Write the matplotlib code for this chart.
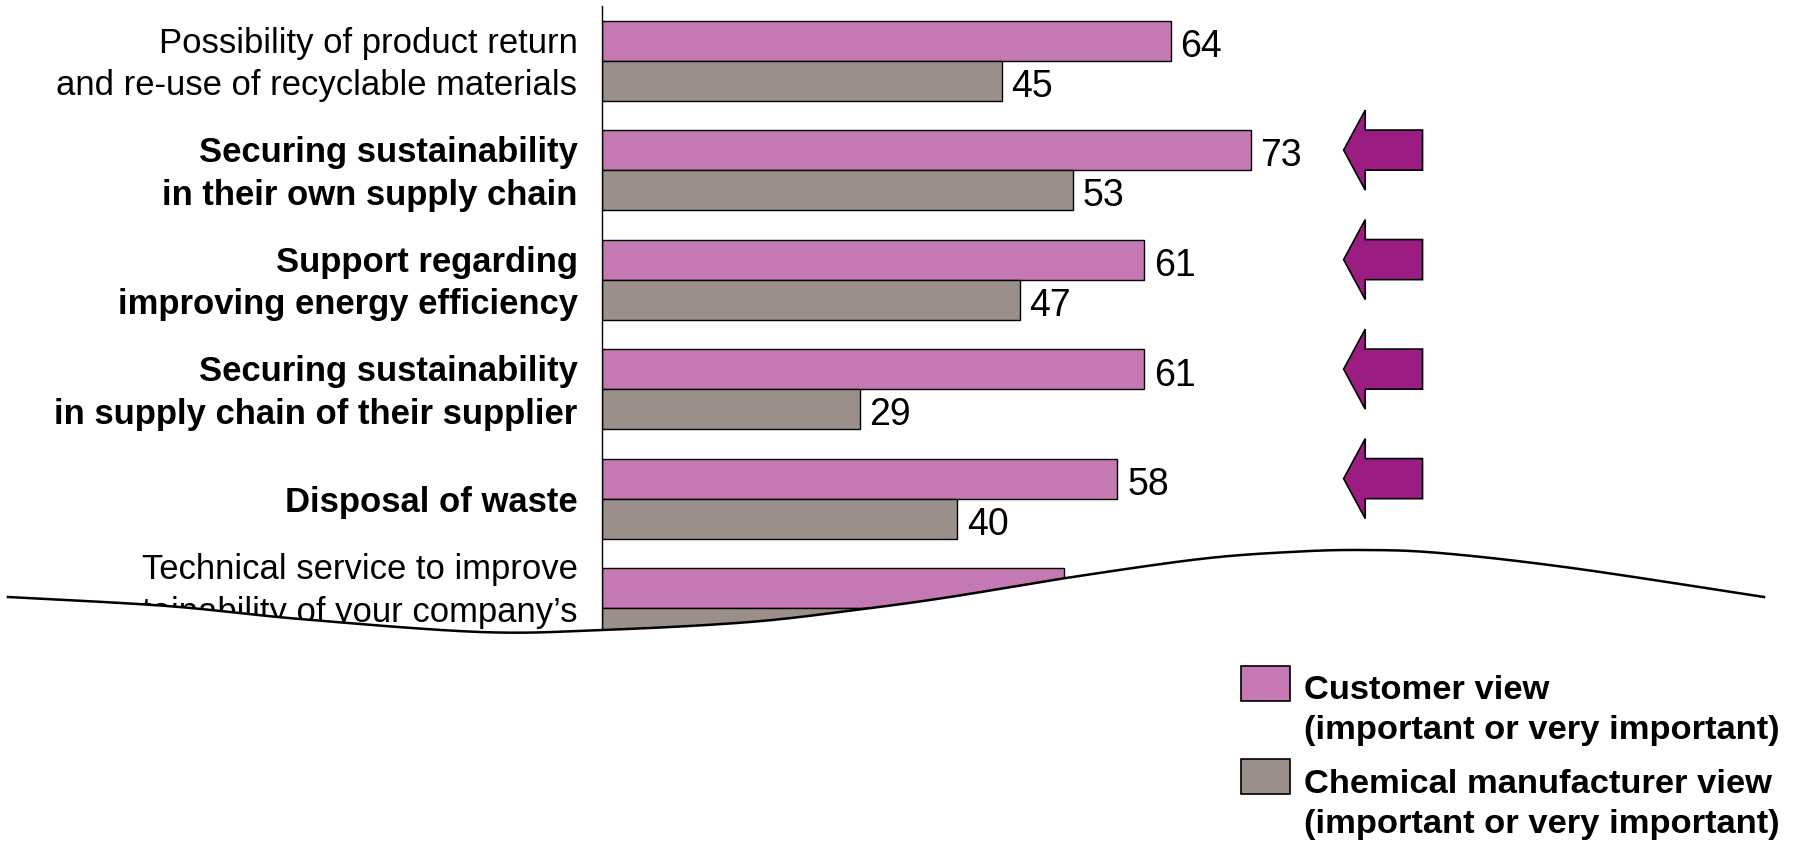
import numpy as np
import matplotlib
matplotlib.use("Agg")
import matplotlib.pyplot as plt
import matplotlib.transforms as mtransforms
from matplotlib.patches import Polygon, Rectangle
from matplotlib.lines import Line2D

# ---------------- data ----------------
categories = [
    "Possibility of product return\nand re-use of recyclable materials",
    "Securing sustainability\nin their own supply chain",
    "Support regarding\nimproving energy efficiency",
    "Securing sustainability\nin supply chain of their supplier",
    "Disposal of waste",
    "Technical service to improve\nsustainability of your company\u2019s\n ",
]
bold_labels = [False, True, True, True, True, False]
customer_view = [64, 73, 61, 61, 58, 52]
manufacturer_view = [45, 53, 47, 29, 40, 38]
highlighted = [False, True, True, True, True, False]
series_names = [
    "Customer view\n(important or very important)",
    "Chemical manufacturer view\n(important or very important)",
]

PINK = "#C479B5"
GRAY = "#9A8F89"
ARROW = "#9B1D82"
FS = 24.9
FS_VAL = 27
FS_LEG = 24.8
LS = 1.37
FONT = "Liberation Sans"

plt.rcParams["font.family"] = [FONT, "DejaVu Sans"]

W, H = 1793, 841
fig = plt.figure(figsize=(W / 100, H / 100), dpi=100)

# axes placement (pixels -> fraction)
ax_left_px, ax_top_px, ax_bottom_px = 602, 5.7, 700
px_per_unit = 8.885
ax_w_px = 100 * px_per_unit
ax = fig.add_axes([ax_left_px / W, 1 - ax_bottom_px / H,
                   ax_w_px / W, (ax_bottom_px - ax_top_px) / H])
ax.set_xlim(0, 100)
ax.set_ylim(5.839, -0.501)

pos = np.arange(len(categories))
h = 0.365
ax.barh(pos - h / 2, customer_view, height=h, color=PINK, edgecolor="black", linewidth=1.0)
ax.barh(pos + h / 2, manufacturer_view, height=h, color=GRAY, edgecolor="black", linewidth=1.0)

for y, v in zip(pos - h / 2, customer_view):
    ax.annotate(str(v), (v, y), xytext=(7, -11.8), textcoords="offset points",
                va="baseline", ha="left", fontsize=FS_VAL)
for y, v in zip(pos + h / 2, manufacturer_view):
    ax.annotate(str(v), (v, y), xytext=(7, -11.8), textcoords="offset points",
                va="baseline", ha="left", fontsize=FS_VAL)

# category labels (drawn as text so line spacing is controllable)
ax.set_yticks([])
ax.set_xticks([])
lab_tr = ax.get_yaxis_transform() + mtransforms.ScaledTranslation(0, -4.0 / 100,
                                                                  fig.dpi_scale_trans)
for y, text, b in zip(pos, categories, bold_labels):
    ax.text(-24.5 / ax_w_px, y, text, transform=lab_tr, fontsize=FS,
            fontweight="bold" if b else "normal", ha="right", va="center",
            multialignment="right", linespacing=LS, clip_on=False)

for s in ["top", "right", "bottom"]:
    ax.spines[s].set_visible(False)
ax.spines["left"].set_linewidth(1.0)

# highlight arrows next to pink bars
tip, head_base, tail = 83.47, 85.9, 92.35
hh, sh = 0.365, 0.183
for y, flag in zip(pos - h / 2, highlighted):
    if flag:
        verts = [(tip, y), (head_base, y - hh), (head_base, y - sh), (tail, y - sh),
                 (tail, y + sh), (head_base, y + sh), (head_base, y + hh)]
        ax.add_patch(Polygon(verts, closed=True, facecolor=ARROW, edgecolor="black",
                             linewidth=1.2, clip_on=False, zorder=4))

# ---------------- wavy cut mask ----------------
ctrl = np.array([(8, 597), (167, 606), (300, 619), (480, 632), (602, 630), (750, 622),
                 (863, 609), (950, 597), (1066, 578), (1200, 559), (1290, 552),
                 (1361, 550), (1440, 553), (1572, 568), (1764, 597)], dtype=float)

def catmull(points, n=40):
    P = np.vstack([points[0], points, points[-1]])
    out = []
    for i in range(1, len(P) - 2):
        p0, p1, p2, p3 = P[i - 1], P[i], P[i + 1], P[i + 2]
        t = np.linspace(0, 1, n, endpoint=False)[:, None]
        seg = 0.5 * ((2 * p1) + (-p0 + p2) * t + (2 * p0 - 5 * p1 + 4 * p2 - p3) * t ** 2
                     + (-p0 + 3 * p1 - 3 * p2 + p3) * t ** 3)
        out.append(seg)
    out.append(points[-1][None, :])
    return np.vstack(out)

curve = catmull(ctrl)
cx = curve[:, 0] / W
cy = 1 - curve[:, 1] / H
mask_pts = np.vstack([np.column_stack([cx, cy]), [[cx[-1], 0], [cx[0], 0]]])
fig.patches.append(Polygon(mask_pts, closed=True, facecolor="white", edgecolor="none",
                           transform=fig.transFigure, zorder=5))
fig.lines.append(Line2D(cx, cy, color="black", linewidth=1.8, transform=fig.transFigure,
                        zorder=6))

# ---------------- legend ----------------
leg = [(PINK, 665.5, 710.5), (GRAY, 759, 804.5)]
for (col, top, ymid), name in zip(leg, series_names):
    fig.patches.append(Rectangle((1241 / W, 1 - (top + 35) / H), 49 / W, 35 / H,
                                 facecolor=col, edgecolor="black", linewidth=1.2,
                                 transform=fig.transFigure, zorder=7))
    fig.text(1304 / W, 1 - ymid / H, name, fontsize=FS_LEG, fontweight="bold",
             va="center", ha="left", linespacing=LS, zorder=7)

fig.savefig("out.png", dpi=100)
